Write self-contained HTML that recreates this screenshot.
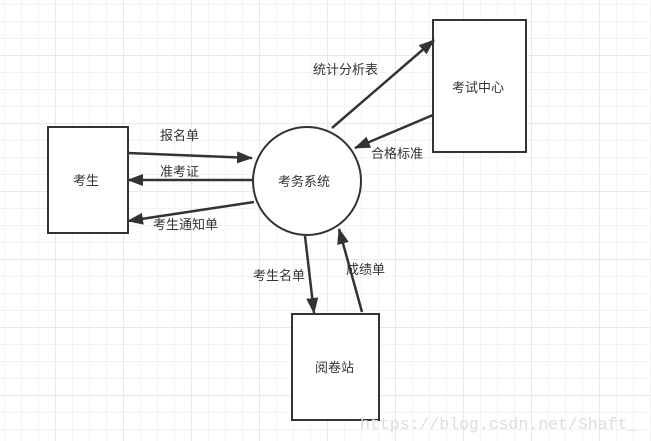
<!DOCTYPE html><html><head><meta charset="utf-8"><style>
body{margin:0;width:651px;height:441px;overflow:hidden;background:#fff;
background-image:linear-gradient(#e8e8e8 1px,transparent 1px),linear-gradient(90deg,#e8e8e8 1px,transparent 1px),linear-gradient(#f3f3f3 1px,transparent 1px),linear-gradient(90deg,#f3f3f3 1px,transparent 1px);
background-size:68px 68px,68px 68px,17px 17px,17px 17px;background-position:55px 55px,55px 55px,4px 4px,4px 4px;}
svg{position:absolute;left:0;top:0}
text{font-family:"Liberation Sans","Noto Sans CJK SC",sans-serif;font-size:13px;fill:#333}
</style></head><body>
<svg width="651" height="441">
<defs><marker id="a" markerWidth="16" markerHeight="12" refX="15" refY="6" orient="auto" markerUnits="userSpaceOnUse" viewBox="0 0 16 12"><path d="M0,0L16,6L0,12z" fill="#333"/></marker></defs>
<g stroke="#333" stroke-width="2" fill="#fff">
<rect x="48" y="127" width="80" height="106"/>
<rect x="433" y="20" width="93" height="132"/>
<rect x="292" y="314" width="87" height="106"/>
<circle cx="307" cy="181" r="54"/>
</g>
<g stroke="#333" stroke-width="2.5" marker-end="url(#a)">
<line x1="128" y1="153" x2="252" y2="158"/>
<line x1="253" y1="180" x2="128" y2="180"/>
<line x1="254" y1="202" x2="128" y2="221"/>
<line x1="332" y1="128" x2="434" y2="40"/>
<line x1="433" y1="115" x2="355" y2="148"/>
<line x1="305" y1="236" x2="314" y2="313"/>
<line x1="362" y1="312" x2="339" y2="229"/>
</g>
<text x="73" y="185">考生</text>
<text x="452" y="92">考试中心</text>
<text x="315" y="372">阅卷站</text>
<text x="278" y="186">考务系统</text>
<text x="160" y="140">报名单</text>
<text x="160" y="176">准考证</text>
<text x="153" y="229">考生通知单</text>
<text x="313" y="74">统计分析表</text>
<text x="371" y="158">合格标准</text>
<text x="253" y="280">考生名单</text>
<text x="346" y="274">成绩单</text>
<text x="360" y="429" style="font-family:'Liberation Mono',monospace;font-size:16.5px;fill:#ddd">https://blog.csdn.net/Shaft_</text>
</svg></body></html>
